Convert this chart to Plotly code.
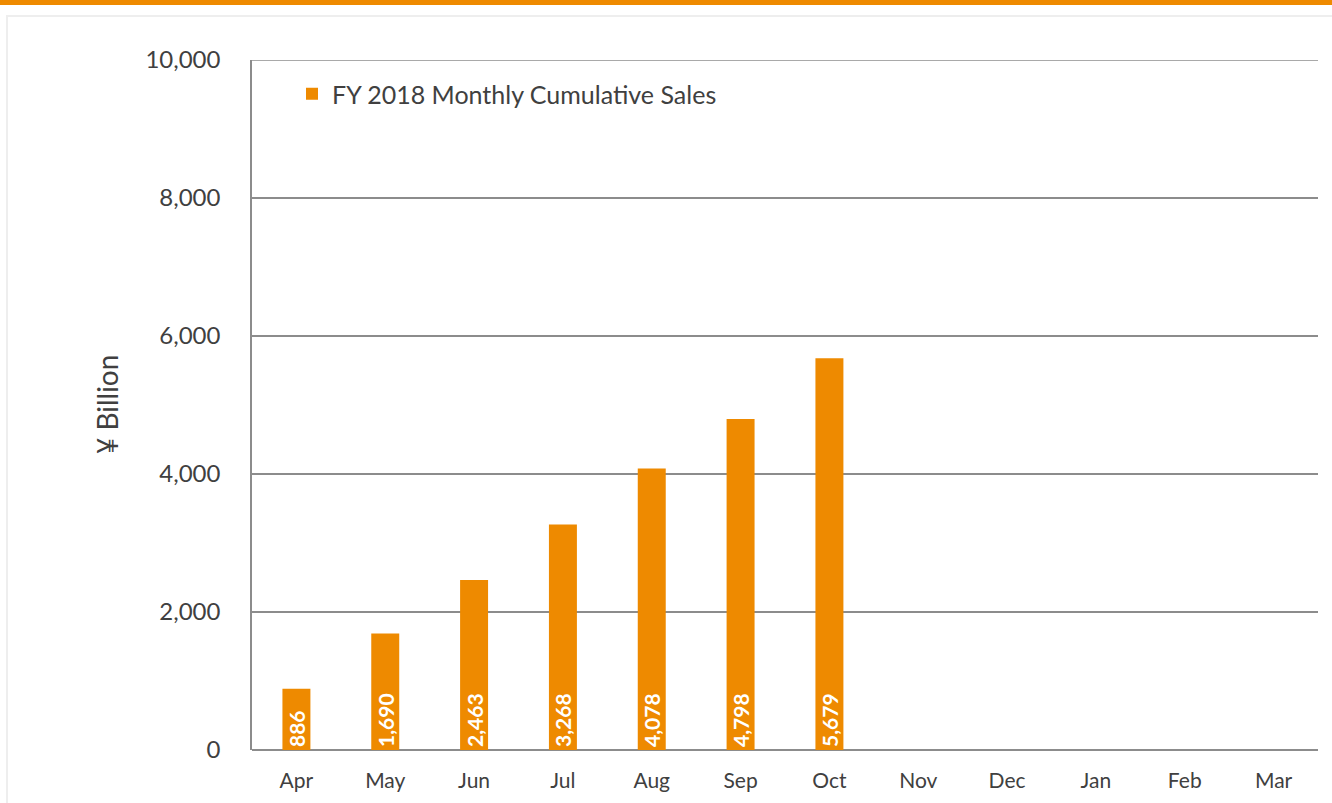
import plotly.graph_objects as go

months = ["Apr", "May", "Jun", "Jul", "Aug", "Sep", "Oct", "Nov", "Dec", "Jan", "Feb", "Mar"]
sales = [886, 1690, 2463, 3268, 4078, 4798, 5679, None, None, None, None, None]
series_name = "FY 2018 Monthly Cumulative Sales"
y_ticks = [0, 2000, 4000, 6000, 8000, 10000]

W, H = 1332, 803
ML, MR, MT, MB = 252, 14, 60, 53
PW, PH = W - ML - MR, H - MT - MB

def px(x):
    return (x - ML) / PW

def py(y):
    return (H - MB - y) / PH

FONT = "Lato"
ORANGE = "#EE8A00"
TXT = "#404040"
GRID = "#8C8C8C"

labels = [f"{v:,}" if v is not None else "" for v in sales]

fig = go.Figure()
fig.add_trace(go.Bar(
    x=months, y=sales, name=series_name,
    marker=dict(color=ORANGE, line=dict(width=0)),
    text=labels, textposition="inside", insidetextanchor="start",
    textangle=-90, constraintext="none",
    textfont=dict(family=FONT, size=21, color="white", weight="bold"),
    showlegend=True,
))

fig.update_layout(
    width=W, height=H,
    margin=dict(l=ML, r=MR, t=MT, b=MB, pad=0),
    paper_bgcolor="white", plot_bgcolor="white",
    bargap=0.685,
    font=dict(family=FONT, color=TXT),
    showlegend=True,
    legend=dict(x=px(292), y=py(94), xanchor="left", yanchor="middle",
                font=dict(family=FONT, size=25, color=TXT),
                bgcolor="rgba(0,0,0,0)", itemwidth=30),
    xaxis=dict(showgrid=False, showline=False, ticks="", ticklabelstandoff=16,
               tickfont=dict(family=FONT, size=21, color=TXT)),
    yaxis=dict(range=[0, 10000], tickvals=y_ticks, tickformat=",d",
               showgrid=True, gridcolor=GRID, gridwidth=1.5,
               showline=True, linecolor=GRID, linewidth=1.5,
               zeroline=True, zerolinecolor=GRID, zerolinewidth=2,
               ticks="", ticklabelstandoff=25,
               tickfont=dict(family=FONT, size=24, color=TXT)),
    annotations=[dict(text="¥ Billion", textangle=-90, x=px(107), y=0.5,
                      xref="paper", yref="paper", showarrow=False,
                      xanchor="center", yanchor="middle",
                      font=dict(family=FONT, size=28, color=TXT))],
    shapes=[
        dict(type="line", xref="paper", yref="y",
             x0=0, x1=1, y0=y_ticks[-1], y1=y_ticks[-1],
             line=dict(color=GRID, width=1.5)),
        dict(type="rect", xref="paper", yref="paper",
             x0=px(0), x1=px(W), y0=py(5), y1=py(0),
             fillcolor=ORANGE, line=dict(width=0), layer="above"),
        dict(type="line", xref="paper", yref="paper",
             x0=px(6), x1=px(W), y0=py(16), y1=py(16),
             line=dict(color="#EEEEEE", width=2)),
        dict(type="line", xref="paper", yref="paper",
             x0=px(7), x1=px(7), y0=py(16), y1=py(H),
             line=dict(color="#EEEEEE", width=2)),
    ],
)

fig.write_html("out.html", config={"displayModeBar": False},
               post_script="document.body.style.margin='0';document.body.style.overflow='hidden';")
